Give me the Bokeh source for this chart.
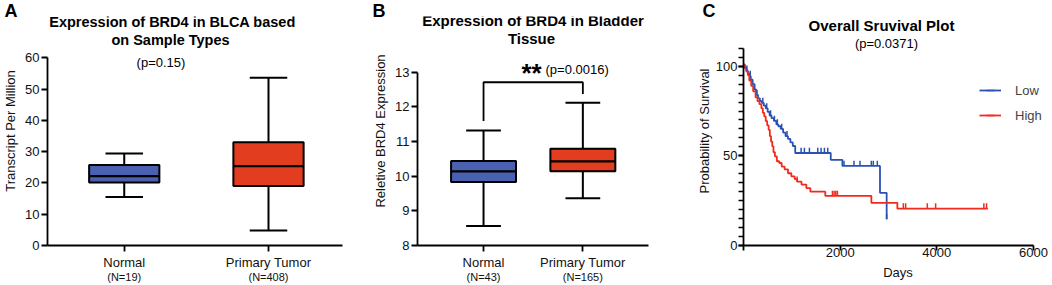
import numpy as np
from bokeh.plotting import figure
from bokeh.models import Label, FixedTicker, Legend, LegendItem, Range1d, Title, LinearAxis
from bokeh.layouts import row
from bokeh.embed import file_html
from bokeh.resources import INLINE

FONT = "Liberation Sans"

# ---------------- Panel A data ----------------
a_groups = ["Normal", "Primary Tumor"]
a_counts = ["(N=19)", "(N=408)"]
a_lower = [15.5, 4.8]
a_q1 = [20.1, 19.0]
a_median = [22.2, 25.4]
a_q3 = [25.7, 33.0]
a_upper = [29.4, 53.6]
a_yticks = [0, 10, 20, 30, 40, 50, 60]
a_p = "(p=0.15)"

# ---------------- Panel B data ----------------
b_groups = ["Normal", "Primary Tumor"]
b_counts = ["(N=43)", "(N=165)"]
b_lower = [8.56, 9.36]
b_q1 = [9.83, 10.14]
b_median = [10.14, 10.43]
b_q3 = [10.44, 10.79]
b_upper = [11.32, 12.12]
b_yticks = [8, 9, 10, 11, 12, 13]
b_sig = "**"
b_p = "(p=0.0016)"

# ---------------- Panel C data ----------------
low_time = [0, 30, 60, 90, 120, 150, 190, 230, 260, 300, 340, 380, 420, 460, 500,
            540, 580, 630, 680, 720, 770, 820, 870, 920, 970, 1020, 1070, 1805, 2046,
            2824, 2962]
low_surv = [100, 99, 97.5, 96, 94.5, 92.5, 90, 87, 84, 82, 80.5, 79.5, 78, 76.5, 74.5,
            72.5, 71, 69.5, 67.5, 66.5, 65, 63, 61, 59.5, 57.5, 55.5, 51.6, 47.8, 44.4,
            29.4, 14.6]
low_censor = [70, 140, 280, 400, 480, 560, 640, 700, 790, 900, 1192, 1260, 1364, 1536,
              1605, 1674, 1743, 2079, 2286, 2410, 2645, 2686, 2769, 2962]

high_time = [0, 30, 60, 90, 120, 160, 200, 250, 290, 330, 370, 400, 430, 460, 490, 520,
             545, 570, 595, 620, 650, 690, 740, 790, 850, 920, 990, 1060, 1110, 1200,
             1300, 1384, 1692, 2645, 3183, 5056]
high_surv = [101, 99, 97, 95, 92, 89, 86, 82.6, 80.5, 78.8, 76.5, 74, 72, 69.4, 67, 64.5,
             61, 58, 55.3, 52, 49.7, 47, 46, 44, 42.5, 40.3, 38.5, 37, 35.6, 34, 32, 30,
             27.7, 23.8, 20.6, 20.6]
high_censor = [1110, 1840, 1875, 1910, 1943, 3307, 3355, 3803, 3975, 4973, 5029]

c_xticks = [0, 2000, 4000, 6000]
c_yticks = [0, 50, 100]
c_ymax = 110
c_p = "(p=0.0371)"

BLUE_BOX = "#4a60b0"
RED_BOX = "#e23d1f"
BLUE_LINE = "#2a52b4"
RED_LINE = "#f22a1c"
AXIS_W = 1.8
TOP = 16      # common frame top (px)
BOTTOM = 40   # common bottom border (px)
H = 285


def make_fig(width, mbl, mbr, xr, yr):
    p = figure(width=width, height=H, x_range=xr, y_range=yr,
               output_backend="svg", toolbar_location=None,
               min_border_left=mbl, min_border_right=mbr,
               min_border_top=TOP, min_border_bottom=BOTTOM)
    p.outline_line_color = None
    p.grid.visible = False
    p.background_fill_color = "white"
    p.border_fill_color = "white"
    for ax in p.axis:
        ax.axis_line_width = AXIS_W
        ax.axis_line_color = "black"
        ax.major_tick_line_width = AXIS_W
        ax.major_tick_line_color = "black"
        ax.major_tick_out = 6
        ax.major_tick_in = 0
        ax.minor_tick_line_color = None
        ax.major_label_text_font = FONT
        ax.major_label_text_font_size = "13px"
        ax.major_label_text_color = "#111111"
        ax.major_label_standoff = 2
        ax.axis_label_text_font = FONT
        ax.axis_label_text_font_size = "13px"
        ax.axis_label_text_font_style = "normal"
        ax.axis_label_text_color = "#111111"
        ax.axis_label_standoff = 4
    return p


def lab(p, text, x, y, size, bold=False, align="center", xu="screen", yu="screen"):
    p.add_layout(Label(x=x, y=y, x_units=xu, y_units=yu, text=text,
                       text_font=FONT, text_font_size=f"{size}px",
                       text_font_style="bold" if bold else "normal",
                       text_align=align, text_baseline="middle", text_color="black"))


def letter(p, text, offset):
    p.add_layout(Title(text=text, text_font=FONT, text_font_size="18px",
                       text_font_style="bold", text_color="black",
                       align="left", offset=offset, standoff=-8), "above")


def count_axis(p, counts):
    ax = LinearAxis(ticker=FixedTicker(ticks=list(range(len(counts)))),
                    major_label_overrides={i: c for i, c in enumerate(counts)},
                    axis_line_color=None, major_tick_line_color=None,
                    minor_tick_line_color=None, major_tick_out=0, major_tick_in=0,
                    minor_tick_out=0, minor_tick_in=0, major_label_standoff=-2,
                    major_label_text_font=FONT, major_label_text_font_size="11px",
                    major_label_text_color="#111111")
    p.add_layout(ax, "below")


def draw_boxes(p, lower, q1, med, q3, upper, colors, box_w, cap_w):
    x = list(range(len(q1)))
    p.segment(x0=x, y0=q3, x1=x, y1=upper, line_color="black", line_width=2)
    p.segment(x0=x, y0=lower, x1=x, y1=q1, line_color="black", line_width=2)
    p.segment(x0=[i - cap_w / 2 for i in x], y0=upper, x1=[i + cap_w / 2 for i in x], y1=upper,
              line_color="black", line_width=2)
    p.segment(x0=[i - cap_w / 2 for i in x], y0=lower, x1=[i + cap_w / 2 for i in x], y1=lower,
              line_color="black", line_width=2)
    p.vbar(x=x, bottom=q1, top=q3, width=box_w, fill_color=colors, line_color="black",
           line_width=2)
    p.segment(x0=[i - box_w / 2 for i in x], y0=med, x1=[i + box_w / 2 for i in x], y1=med,
              line_color="black", line_width=2.2)


frame_h = H - TOP - BOTTOM

# ---------------- Panel A ----------------
a_scale = 187.7 / a_yticks[-1]          # px per unit
pa = make_fig(350, 39, 8, Range1d(-0.532, 1.513), Range1d(0, frame_h / a_scale))
draw_boxes(pa, a_lower, a_q1, a_median, a_q3, a_upper, [BLUE_BOX, RED_BOX], 0.487, 0.26)
pa.xaxis.ticker = FixedTicker(ticks=list(range(len(a_groups))))
pa.xaxis.major_label_overrides = {i: g for i, g in enumerate(a_groups)}
pa.xaxis.major_label_standoff = 3
pa.yaxis.ticker = FixedTicker(ticks=a_yticks)
pa.yaxis.bounds = (a_yticks[0], a_yticks[-1])
pa.yaxis.axis_label = "Transcript Per Million"
count_axis(pa, a_counts)
letter(pa, "A", -43)
lab(pa, "Expression of BRD4 in BLCA based", 125, 223.3, 14.5, bold=True)
lab(pa, "on Sample Types", 123, 205.7, 14.5, bold=True)
lab(pa, a_p, 113.5, 182.7, 13)

# ---------------- Panel B ----------------
b_scale = 173.3 / (b_yticks[-1] - b_yticks[0])
pb = make_fig(342, 67, 44, Range1d(-0.665, 1.661),
              Range1d(b_yticks[0], b_yticks[0] + frame_h / b_scale))
draw_boxes(pb, b_lower, b_q1, b_median, b_q3, b_upper, [BLUE_BOX, RED_BOX], 0.654, 0.35)
pb.xaxis.ticker = FixedTicker(ticks=list(range(len(b_groups))))
pb.xaxis.major_label_overrides = {i: g for i, g in enumerate(b_groups)}
pb.xaxis.major_label_standoff = 3
pb.yaxis.ticker = FixedTicker(ticks=b_yticks)
pb.yaxis.bounds = (b_yticks[0], b_yticks[-1])
pb.yaxis.axis_label = "Reletive BRD4 Expression"
bracket_top = 12.71
pb.line(x=[0, 0, 1, 1], y=[b_upper[0] + 0.27, bracket_top, bracket_top, b_upper[1] + 0.25],
        line_color="black", line_width=1.8)
count_axis(pb, b_counts)
letter(pb, "B", -45)
lab(pb, "Expression of BRD4 in Bladder", 115.5, 225, 15, bold=True)
lab(pb, "Tissue", 114, 207.5, 15, bold=True)
lab(pb, b_sig, 104, 172.5, 26, bold=True, align="left")
lab(pb, b_p, 128, 175.7, 13, align="left")

# ---------------- Panel C ----------------
c_scale = 179.3 / 100
c_xmax = c_xticks[-1] * 309 / 290
pc = make_fig(360, 51, 0, Range1d(0, c_xmax), Range1d(0, frame_h / c_scale))
pc.xaxis.ticker = FixedTicker(ticks=c_xticks)
pc.xaxis.bounds = (c_xticks[0], c_xticks[-1])
pc.xaxis.major_label_overrides = {0: ""}
pc.xaxis.major_tick_out = 5
pc.xaxis.major_label_standoff = -3
pc.xaxis.axis_label_standoff = 5
pc.xaxis.axis_label = "Days"
pc.yaxis.ticker = FixedTicker(ticks=c_yticks, minor_ticks=list(range(0, c_ymax + 1, 5)))
pc.yaxis.bounds = (0, c_ymax)
pc.yaxis.major_tick_out = 5
pc.yaxis.minor_tick_out = 5
pc.yaxis.minor_tick_in = 0
pc.yaxis.minor_tick_line_color = "black"
pc.yaxis.minor_tick_line_width = 1.5
pc.yaxis.major_label_standoff = 1
pc.yaxis.axis_label_standoff = 1
pc.yaxis.axis_label = "Probability of Survival"


def surv_at(times, survs, t):
    idx = np.searchsorted(np.array(times), np.array(t), side="right") - 1
    return np.array(survs, dtype=float)[idx]


low_line = pc.step(low_time, low_surv, mode="after", line_color=BLUE_LINE, line_width=1.8)
high_line = pc.step(high_time, high_surv, mode="after", line_color=RED_LINE, line_width=1.8)
low_tick = pc.scatter(x=low_censor, y=surv_at(low_time, low_surv, low_censor) + 1.5,
                      marker="dash", angle=np.pi / 2, size=5, line_color=BLUE_LINE, line_width=1.5)
high_tick = pc.scatter(x=high_censor, y=surv_at(high_time, high_surv, high_censor) + 1.5,
                       marker="dash", angle=np.pi / 2, size=5, line_color=RED_LINE, line_width=1.5)
legend = Legend(items=[LegendItem(label="Low", renderers=[low_line, low_tick]),
                       LegendItem(label="High", renderers=[high_line, high_tick])],
                location=(236, 120), padding=0, spacing=5, glyph_width=22, glyph_height=20,
                label_height=20, label_standoff=14, border_line_color=None,
                background_fill_alpha=0, label_text_font=FONT, label_text_font_size="13px",
                margin=0)
pc.add_layout(legend)
letter(pc, "C", -41)
lab(pc, "Overall Sruvival Plot", 138, 220, 15, bold=True)
lab(pc, c_p, 143, 201.7, 13)

layout = row(pa, pb, pc, spacing=0)
open("out.html", "w").write(file_html(layout, INLINE))
